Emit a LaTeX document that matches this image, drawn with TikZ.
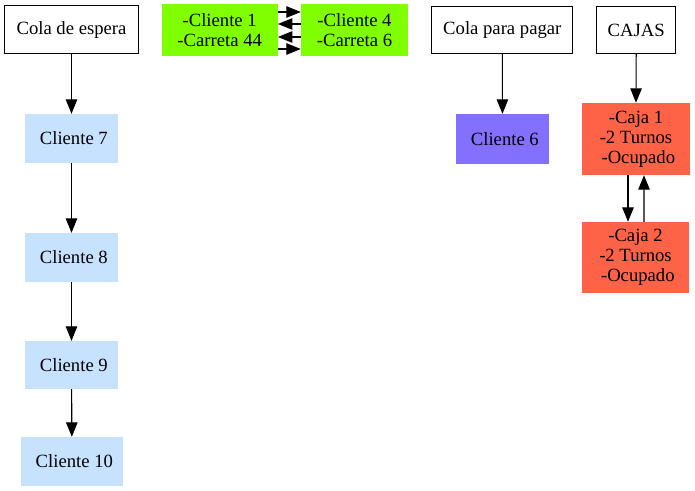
\documentclass[tikz,border=0pt]{standalone}
\usepackage{fontspec}
\setmainfont{Liberation Serif}
\usetikzlibrary{arrows.meta}
\definecolor{sgray}{HTML}{C6E2FF}
\definecolor{chart}{HTML}{7FFF00}
\definecolor{lsblue}{HTML}{8470FF}
\definecolor{tomato}{HTML}{FF6347}
\begin{document}
\begin{tikzpicture}[x=1bp,y=-1bp,
  every node/.style={font=\fontsize{18.67bp}{20bp}\selectfont, inner sep=0pt, align=center},
  hdr/.style={draw=black, line width=1bp, fill=white},
  blue/.style={fill=sgray},
  green/.style={fill=chart},
  purp/.style={fill=lsblue},
  red/.style={fill=tomato},
  arr/.style={draw=black, line width=1.1bp, -{Triangle[length=14.5bp,width=11.5bp]}}]
\useasboundingbox[fill=white] (0,0) rectangle (695,491);
\node[hdr, minimum width=133bp, minimum height=48bp] (cola) at (71.5,30) {Cola de espera};
\node[blue, minimum width=93bp, minimum height=49bp] (c7) at (71.5,138.5) {~Cliente 7};
\node[blue, minimum width=93bp, minimum height=49bp] (c8) at (71.5,257.5) {~Cliente 8};
\node[blue, minimum width=93bp, minimum height=48bp] (c9) at (71.5,365) {~Cliente 9};
\node[blue, minimum width=102bp, minimum height=49bp] (c10) at (72,461.5) {~Cliente 10};
\node[green, minimum width=116bp, minimum height=52bp] (g1) at (219.7,30) {-Cliente 1\\-Carreta 44};
\node[green, minimum width=107bp, minimum height=52bp] (g4) at (354.5,30) {-Cliente 4\\-Carreta 6};
\node[hdr, minimum width=140.7bp, minimum height=47.3bp] (pagar) at (502.3,30) {Cola para pagar};
\node[purp, minimum width=93bp, minimum height=50bp] (c6) at (502.5,139) {~Cliente 6};
\node[hdr, minimum width=79bp, minimum height=47.3bp] (cajas) at (636.2,30) {CAJAS};
\node[red, minimum width=108bp, minimum height=72bp] (k1) at (636,139) {-Caja 1\\-2 Turnos\\~-Ocupado};
\node[red, minimum width=107.5bp, minimum height=71bp] (k2) at (635.5,257.5) {-Caja 2\\-2 Turnos\\~-Ocupado};
\draw[arr] (cola) -- (c7);
\draw[arr] (c7) -- (c8);
\draw[arr] (c8) -- (c9);
\draw[arr] (c9) -- (c10);
\draw[arr] (pagar) -- (c6);
\draw[arr] (cajas.south) -- (k1.north);
\draw[arr] ([yshift=18bp]g1.east) -- ([yshift=18bp]g4.west);
\draw[arr] ([yshift=6bp]g4.west) -- ([yshift=6bp]g1.east);
\draw[arr] ([yshift=-7bp]g4.west) -- ([yshift=-7bp]g1.east);
\draw[arr] ([yshift=-19bp]g1.east) -- ([yshift=-19bp]g4.west);
\draw[arr] ([xshift=-8bp]k1.south) -- ([xshift=-7.5bp]k2.north);
\draw[arr] ([xshift=8.5bp]k2.north) -- ([xshift=8bp]k1.south);
\end{tikzpicture}
\end{document}
